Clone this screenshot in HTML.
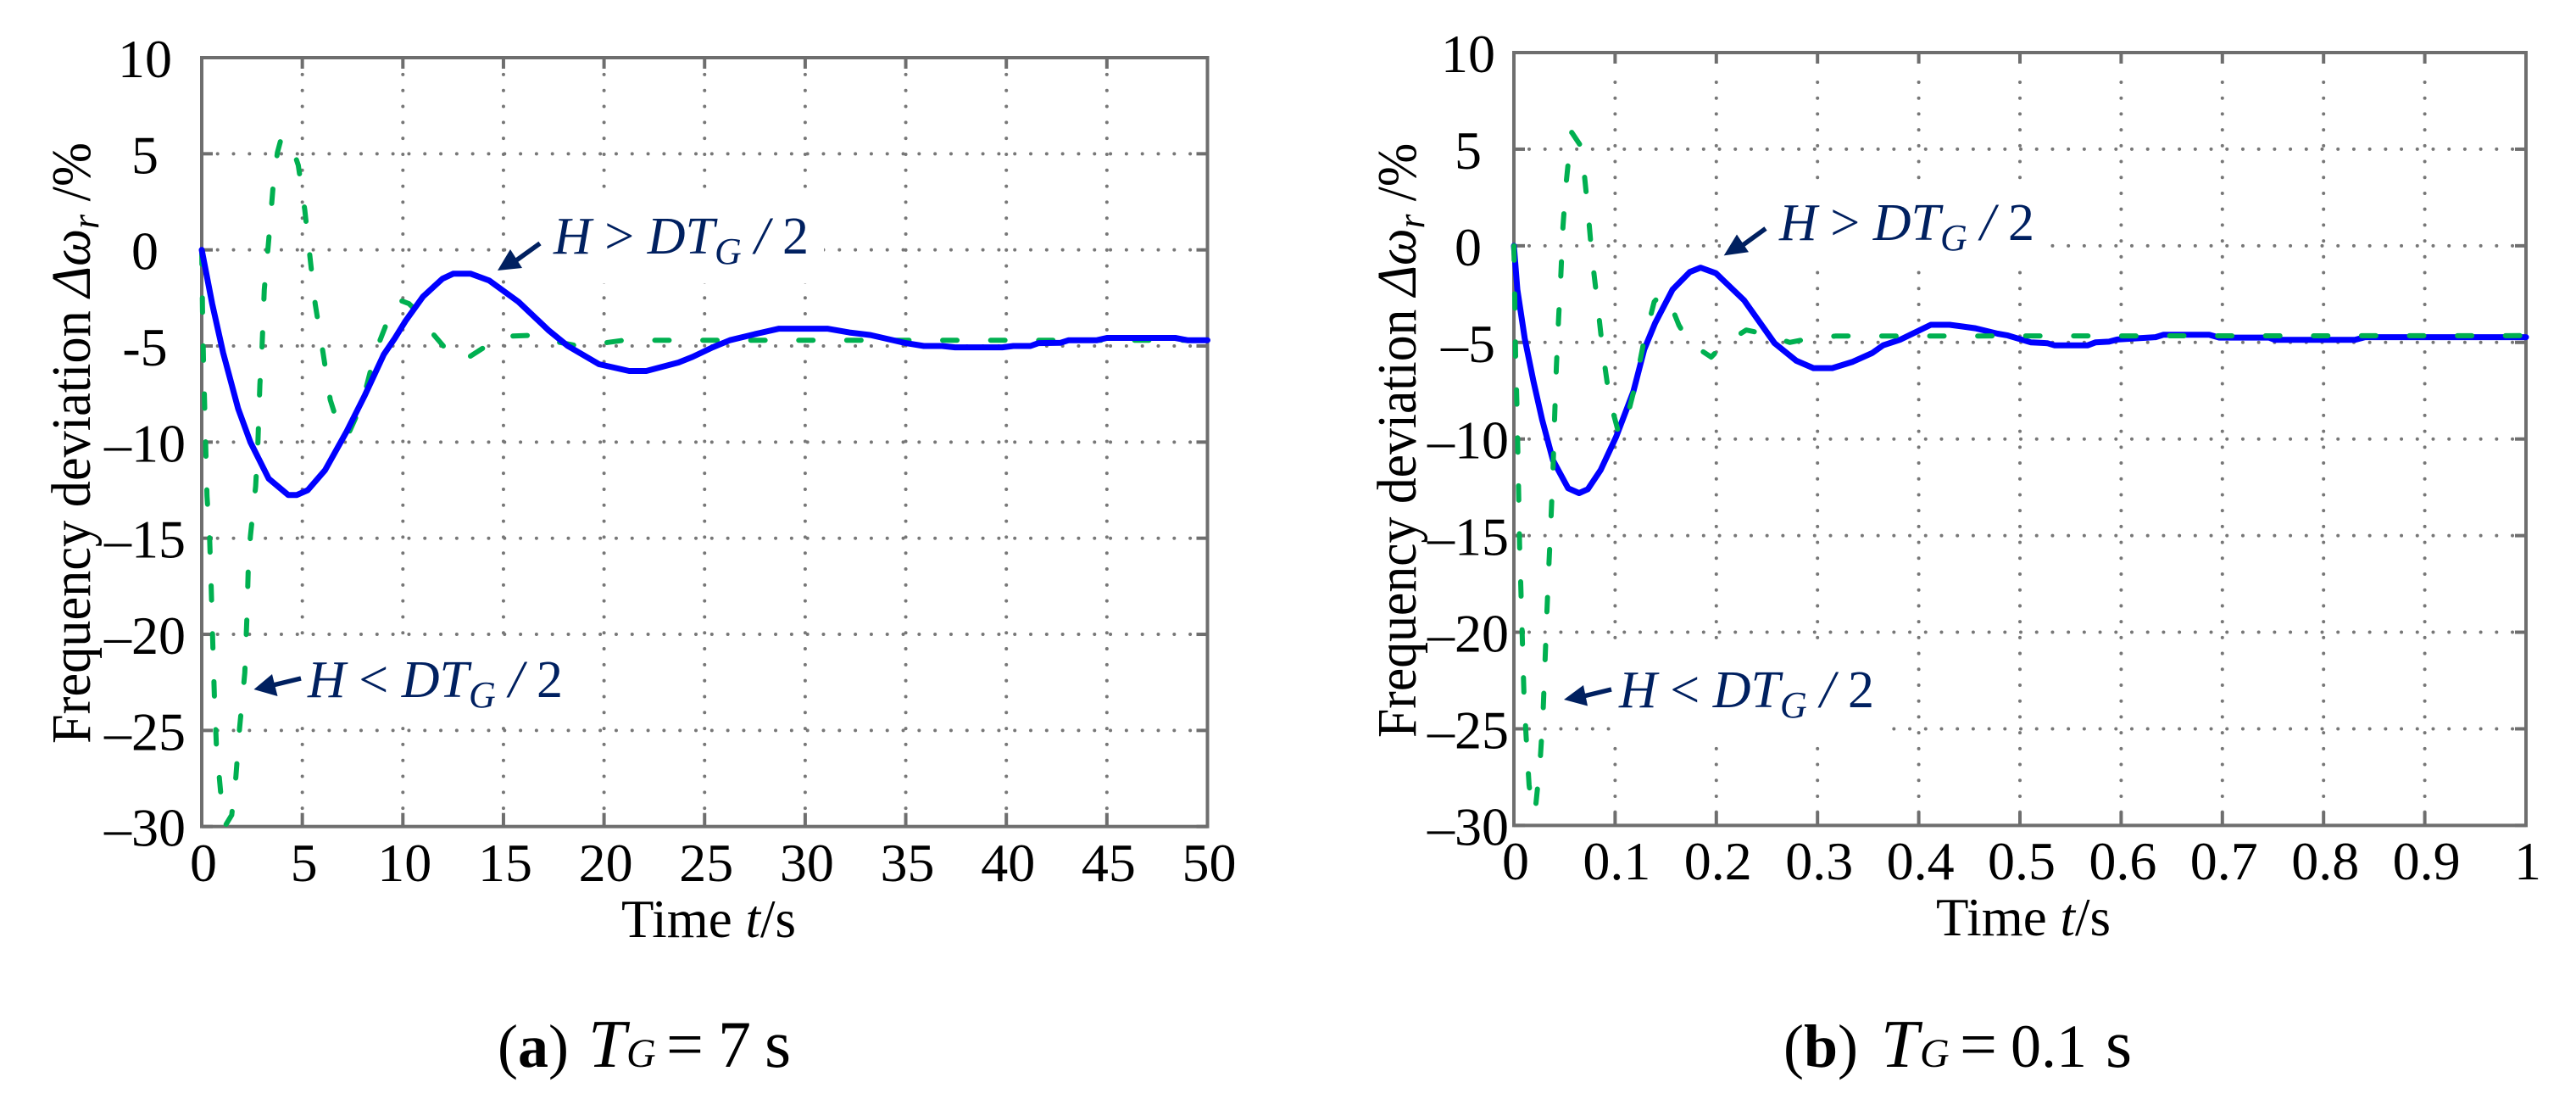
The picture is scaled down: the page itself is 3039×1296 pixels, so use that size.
<!DOCTYPE html>
<html lang="en">
<head>
<meta charset="utf-8">
<title>Frequency deviation charts</title>
<style>
html,body{margin:0;padding:0;background:#fff;}
svg{display:block;}
text{font-family:"Liberation Serif",serif;fill:#000;}
.tick{font-size:64px;text-anchor:middle;}
.title{font-size:63px;}
.ytitle{font-size:66px;}
.note{font-size:62px;fill:#002060;}
.note tspan{fill:#002060;}
.cap{font-size:78px;}
.it{font-style:italic;}
</style>
</head>
<body>
<svg id="figure" width="3039" height="1296" viewBox="0 0 3039 1296" xmlns="http://www.w3.org/2000/svg">
  <rect width="3039" height="1296" fill="#fff"/>
  <g id="chart-a"></g>
  <g id="chart-b"></g>

  <text class="title" x="733" y="1105">Time <tspan class="it">t</tspan>/s</text>
  <text class="title" x="2284" y="1103">Time <tspan class="it">t</tspan>/s</text>

  <text class="ytitle" transform="translate(106,877) rotate(-90) scale(0.945,1)">Frequency deviation <tspan class="it">Δω</tspan><tspan class="it" font-size="46" dy="10">r</tspan><tspan dy="-10"> /%</tspan></text>
  <text class="ytitle" transform="translate(1670,870) rotate(-90) scale(0.935,1)">Frequency deviation <tspan class="it">Δω</tspan><tspan class="it" font-size="46" dy="10">r</tspan><tspan dy="-10"> /%</tspan></text>

  <text class="note" x="653" y="299"><tspan class="it">H</tspan> &gt; <tspan class="it">DT</tspan><tspan class="it" font-size="44" dy="12">G</tspan><tspan dy="-12"> </tspan><tspan class="it">/</tspan> 2</text>
  <text class="note" x="363" y="822"><tspan class="it">H</tspan> &lt; <tspan class="it">DT</tspan><tspan class="it" font-size="44" dy="12">G</tspan><tspan dy="-12"> </tspan><tspan class="it">/</tspan> 2</text>
  <text class="note" x="2099" y="283"><tspan class="it">H</tspan> &gt; <tspan class="it">DT</tspan><tspan class="it" font-size="44" dy="12">G</tspan><tspan dy="-12"> </tspan><tspan class="it">/</tspan> 2</text>
  <text class="note" x="1910" y="834"><tspan class="it">H</tspan> &lt; <tspan class="it">DT</tspan><tspan class="it" font-size="44" dy="12">G</tspan><tspan dy="-12"> </tspan><tspan class="it">/</tspan> 2</text>

  <g stroke="#002060" fill="#002060">
    <line x1="637" y1="287" x2="605" y2="310" stroke-width="5.5"/>
    <polygon points="587,319 602,294 616,316" stroke="none"/>
  </g>
  <g stroke="#002060" fill="#002060">
    <line x1="355" y1="800" x2="322" y2="808" stroke-width="5.5"/>
    <polygon points="299.5,813 321,795 327.5,821" stroke="none"/>
  </g>
  <g stroke="#002060" fill="#002060">
    <line x1="2083" y1="269.5" x2="2052" y2="292" stroke-width="5.5"/>
    <polygon points="2033.7,301.4 2049,276.5 2063,297.3" stroke="none"/>
  </g>
  <g stroke="#002060" fill="#002060">
    <line x1="1901" y1="813" x2="1868" y2="821" stroke-width="5.5"/>
    <polygon points="1845,825 1868,808 1873,832.5" stroke="none"/>
  </g>

  <text class="cap" y="1258"><tspan x="587" font-size="72">(</tspan><tspan font-weight="bold" font-size="72">a</tspan><tspan font-size="72">)</tspan><tspan class="it" x="694" font-size="80">T</tspan><tspan class="it" x="739" font-size="48">G</tspan><tspan x="786">=</tspan><tspan x="847">7</tspan><tspan x="902" font-size="80">s</tspan></text>
  <text class="cap" y="1258"><tspan x="2104" font-size="72">(</tspan><tspan font-weight="bold" font-size="72">b</tspan><tspan font-size="72">)</tspan><tspan class="it" x="2219" font-size="80">T</tspan><tspan class="it" x="2265" font-size="48">G</tspan><tspan x="2312">=</tspan><tspan x="2372" font-size="72">0.1</tspan><tspan x="2484" font-size="80">s</tspan></text>
</svg>

<script>
// Chart (a) T_G = 7 s
const xTicksA = [0, 5, 10, 15, 20, 25, 30, 35, 40, 45, 50];
const xTickLabelsA = ['0', '5', '10', '15', '20', '25', '30', '35', '40', '45', '50'];
const yTicksA = [10, 5, 0, -5, -10, -15, -20, -25, -30];
const yTickLabelsA = ['10', '5', '0', '-5', '–10', '–15', '–20', '–25', '–30'];
const blueTimeA = [0, .52, 1.06, 1.81, 2.42, 3.33, 4.3, 4.73, 5.27, 6.13, 7.2, 8.08, 9.05, 9.6, 10.13, 11, 11.97, 12.5, 13.37, 14.3, 15.75, 17.26, 18.2, 19.75, 21.25, 22.1, 23.7, 24.4, 25.4, 26.26, 27.66, 28.7, 31.1, 32.2, 33.25, 35, 35.9, 36.8, 37.45, 39.8, 40.35, 41.2, 41.6, 42.7, 43.1, 44.5, 45, 48.4, 49, 50];
const blueValueA = [0, -2.8, -5.35, -8.27, -10, -11.9, -12.75, -12.75, -12.5, -11.46, -9.45, -7.63, -5.44, -4.6, -3.7, -2.43, -1.5, -1.24, -1.24, -1.6, -2.7, -4.2, -5, -5.95, -6.3, -6.3, -5.86, -5.57, -5.07, -4.7, -4.34, -4.1, -4.1, -4.3, -4.43, -4.85, -5, -5, -5.07, -5.07, -5, -5, -4.85, -4.83, -4.7, -4.7, -4.58, -4.58, -4.7, -4.7];
const greenTimeA = [0, .04, .09, .15, .26, .39, .47, .56, .63, .73, .95, 1.2, 1.49, 1.7, 1.88, 2.14, 2.25, 2.31, 2.42, 2.68, 2.79, 2.89, 3, 3.11, 3.33, 3.54, 3.76, 3.97, 4.45, 4.8, 5.12, 5.31, 5.64, 6.03, 6.39, 6.89, 7.28, 7.97, 8.62, 9.37, 9.8, 10.3, 11, 11.4, 12.5, 13.1, 14.3, 15, 16.7, 17.26, 18.7, 19.6, 21, 50];
const greenValueA = [0, -3.15, -5.9, -8.36, -12.8, -15, -17.6, -20.9, -23.2, -25.8, -28.3, -29.9, -29.4, -27.4, -24.9, -22, -19, -16.7, -14.9, -12.3, -10.1, -7, -5, -2.06, .5, 3.2, 5.05, 5.88, 5.5, 4.4, 2.1, .3, -2.8, -5.35, -7.8, -9.45, -9.6, -8, -5.35, -3.34, -2.6, -2.8, -3.5, -4.25, -5.6, -5.7, -4.9, -4.5, -4.43, -4.7, -5, -4.9, -4.7, -4.7];

// Chart (b) T_G = 0.1 s
const xTicksB = [0, .1, .2, .3, .4, .5, .6, .7, .8, .9, 1];
const xTickLabelsB = ['0', '0.1', '0.2', '0.3', '0.4', '0.5', '0.6', '0.7', '0.8', '0.9', '1'];
const yTicksB = [10, 5, 0, -5, -10, -15, -20, -25, -30];
const yTickLabelsB = ['10', '5', '0', '–5', '–10', '–15', '–20', '–25', '–30'];
const blueTimeB = [0, .0034, .0107, .0193, .0279, .0386, .0536, .0644, .073, .0858, .1009, .118, .1288, .1395, .1567, .1738, .1845, .1996, .2275, .2575, .279, .296, .3146, .3348, .354, .3648, .382, .412, .4305, .444, .456, .478, .488, .511, .527, .534, .567, .5745, .588, .596, .634, .642, .687, .697, .746, .752, .831, .841, 1];
const blueValueB = [0, -2.27, -4.8, -7, -9, -11.1, -12.55, -12.8, -12.6, -11.6, -9.9, -7.55, -5.36, -4, -2.27, -1.36, -1.13, -1.42, -2.82, -5.04, -5.95, -6.33, -6.33, -6, -5.55, -5.15, -4.85, -4.09, -4.09, -4.18, -4.27, -4.55, -4.64, -5, -5.04, -5.15, -5.15, -5, -4.96, -4.85, -4.73, -4.6, -4.6, -4.75, -4.75, -4.87, -4.87, -4.73, -4.73];
const greenTimeB = [0, .001, .0017, .003, .0047, .0056, .0069, .0086, .0099, .012, .015, .0185, .0215, .0258, .0288, .0309, .0326, .0343, .0365, .0386, .04, .042, .0442, .0464, .0485, .0515, .055, .0571, .0657, .0687, .073, .0773, .0828, .088, .0944, .103, .106, .1103, .12, .1275, .1386, .1438, .1515, .163, .173, .195, .207, .2296, .2468, .2725, .29, .3176, 1];
const greenValueB = [0, -3.18, -5.7, -8.27, -12.8, -15.5, -17.7, -20.9, -23.1, -25.3, -27.9, -29.3, -29, -26.8, -24.2, -21.3, -19, -16.8, -14.3, -11.7, -9.2, -6.27, -3.7, -1.5, 1, 3.18, 5, 5.87, 5.2, 4.18, 1.9, -.64, -3.1, -5.55, -7.9, -9.6, -9.7, -9.2, -7.2, -5.2, -2.9, -2.6, -2.6, -4.1, -5, -5.76, -5.1, -4.36, -4.55, -5, -4.82, -4.67, -4.65];

const SVG_NS = 'http://www.w3.org/2000/svg';
const AXIS_COLOR = '#6e6e6e';

function makeEl(parent, tag, attrs) {
  const el = document.createElementNS(SVG_NS, tag);
  for (const k in attrs) el.setAttribute(k, attrs[k]);
  parent.appendChild(el);
  return el;
}

function drawChart(host, cfg) {
  const sx = function (t) { return cfg.left + (t - cfg.xMin) / (cfg.xMax - cfg.xMin) * (cfg.right - cfg.left); };
  const sy = function (v) { return cfg.top + (cfg.yMax - v) / (cfg.yMax - cfg.yMin) * (cfg.bottom - cfg.top); };

  // grid
  const grid = makeEl(host, 'g', { stroke: '#777', 'stroke-width': 4, 'stroke-linecap': 'round', 'stroke-dasharray': '0.01 ' + cfg.dotStep });
  
  
  cfg.xTicks.forEach(function (t) {
    if (t === cfg.xMin || t === cfg.xMax) return;
    const ln = makeEl(grid, 'line', { x1: sx(t), x2: sx(t), y1: cfg.dotStartY, y2: cfg.bottom - 14 });
    
    
  });
  cfg.yTicks.forEach(function (v) {
    if (v === cfg.yMin || v === cfg.yMax) return;
    const ln = makeEl(grid, 'line', { x1: cfg.dotStartX, x2: cfg.right - 12, y1: sy(v), y2: sy(v) });
    
    
  });

  // white masks behind annotations
  cfg.masks.forEach(function (m) {
    const r = makeEl(host, 'rect', { x: m[0], y: m[1], width: m[2] - m[0], height: m[3] - m[1], fill: '#fff' });
    
    
  });

  // ticks
  const ticks = makeEl(host, 'g', { stroke: AXIS_COLOR, 'stroke-width': 4 });
  
  
  cfg.xTicks.forEach(function (t) {
    makeEl(ticks, 'line', { x1: sx(t), x2: sx(t), y1: cfg.top, y2: cfg.top + 13 });
    makeEl(ticks, 'line', { x1: sx(t), x2: sx(t), y1: cfg.bottom, y2: cfg.bottom - 16 });
  });
  cfg.yTicks.forEach(function (v) {
    makeEl(ticks, 'line', { x1: cfg.left, x2: cfg.left + 13, y1: sy(v), y2: sy(v) });
    makeEl(ticks, 'line', { x1: cfg.right, x2: cfg.right - 13, y1: sy(v), y2: sy(v) });
  });

  // plot frame
  const frame = makeEl(host, 'rect', { x: cfg.left, y: cfg.top, width: cfg.right - cfg.left, height: cfg.bottom - cfg.top, fill: 'none', stroke: AXIS_COLOR, 'stroke-width': 4 });
  
  

  // tick labels
  cfg.xTicks.forEach(function (t, i) {
    const lb = makeEl(host, 'text', { class: 'tick', x: sx(t) + 2, y: cfg.xLabelY });
    
    
    lb.textContent = cfg.xLabels[i];
  });
  cfg.yTicks.forEach(function (v, i) {
    const lb = makeEl(host, 'text', { class: 'tick', x: cfg.yLabelX, y: sy(v) + 23 });
    
    
    lb.textContent = cfg.yLabels[i];
  });

  // series
  const toPoints = function (ts, vs) {
    return ts.map(function (t, i) { return sx(t).toFixed(1) + ',' + sy(vs[i]).toFixed(1); }).join(' ');
  };
  const drawGreen = function () {
    const g = makeEl(host, 'polyline', { points: toPoints(cfg.greenT, cfg.greenV), fill: 'none', stroke: '#00b050', 'stroke-width': 6, 'stroke-linecap': 'round', 'stroke-linejoin': 'round', 'stroke-dasharray': '17 39.6' });
    
    
  };
  const drawBlue = function () {
    const b = makeEl(host, 'polyline', { points: toPoints(cfg.blueT, cfg.blueV), fill: 'none', stroke: '#0000ff', 'stroke-width': 7, 'stroke-linecap': 'round', 'stroke-linejoin': 'round' });
    
    
  };
  if (cfg.greenOnTop) { drawBlue(); drawGreen(); } else { drawGreen(); drawBlue(); }
}

drawChart(document.getElementById('chart-a'), {
  left: 238, right: 1424.5, top: 68, bottom: 974.7,
  xMin: 0, xMax: 50, yMin: -30, yMax: 10,
  xTicks: xTicksA, xLabels: xTickLabelsA, yTicks: yTicksA, yLabels: yTickLabelsA,
  blueT: blueTimeA, blueV: blueValueA, greenT: greenTimeA, greenV: greenValueA,
  dotStep: 18.8, dotStartX: 256.7, dotStartY: 87.9,
  xLabelY: 1039, yLabelX: 171,
  masks: [[600, 236, 972, 334], [352, 752, 705, 855]],
  greenOnTop: false
});

drawChart(document.getElementById('chart-b'), {
  left: 1786, right: 2980, top: 62, bottom: 973.4,
  xMin: 0, xMax: 1, yMin: -30, yMax: 10,
  xTicks: xTicksB, xLabels: xTickLabelsB, yTicks: yTicksB, yLabels: yTickLabelsB,
  blueT: blueTimeB, blueV: blueValueB, greenT: greenTimeB, greenV: greenValueB,
  dotStep: 18.7, dotStartX: 1804, dotStartY: 97,
  xLabelY: 1037, yLabelX: 1732,
  masks: [[2030, 215, 2418, 315], [1900, 767, 2232, 870]],
  greenOnTop: true
});
</script>
</body>
</html>
